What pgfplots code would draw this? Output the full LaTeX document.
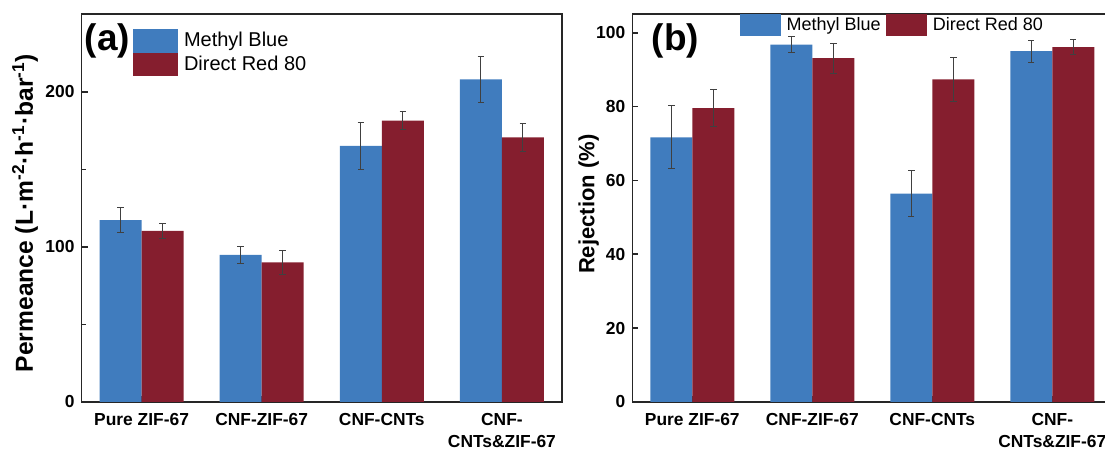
\documentclass[border=0pt]{standalone}
\usepackage{pgfplots}
\pgfplotsset{compat=1.18}
\usepackage{pgfplotstable}
\usepackage{fontspec}
\setmainfont{Liberation Sans}
\definecolor{mblue}{RGB}{64,124,190}
\definecolor{dred}{RGB}{133,30,46}

\pgfplotstableread{
x mb mbe dr dre
0 117.3 8.0 110.4 5.0
1 94.9 5.5 90.0 8.0
2 165.1 15.0 181.5 6.0
3 208.0 15.0 170.7 9.0
}\perm
\pgfplotstableread{
x mb mbe dr dre
0 71.7 8.5 79.6 5.0
1 96.8 2.2 93.1 4.0
2 56.4 6.2 87.4 6.0
3 95.0 3.0 96.1 2.0
}\rej

\pgfplotsset{
  common/.style={
    scale only axis, height=193.85pt,
    ybar=0pt, bar width=21pt,
    xmin=-0.5, xmax=3.5, ymin=0,
    xtick={0,1,2,3},
    xticklabels={Pure ZIF-67, CNF-ZIF-67, CNF-CNTs, {CNF-\\CNTs\&ZIF-67}},
    tick align=inside, tick pos=left,
    major tick length=3pt, minor tick length=2pt,
    axis line style={line width=0.8pt, black!85},
    every tick/.style={black!85, line width=0.8pt},
    /pgf/number format/assume math mode=true,
    yticklabel style={font=\bfseries\fontsize{8.7}{10}\selectfont},
    xticklabel style={align=center, font=\bfseries\fontsize{8.7}{11}\selectfont, inner sep=0pt, yshift=-5.4pt},
    ylabel style={font=\bfseries\fontsize{11}{13}\selectfont, anchor=center},
    legend cell align=left,
  },
  errs/.style={
    error bars/.cd, y dir=both, y explicit,
    error bar style={line width=0.5pt, black!75},
    error mark options={rotate=90, mark size=1.6pt, line width=0.5pt, black!75},
    /pgfplots/.cd,
  },
}

\begin{document}
\begin{tikzpicture}
\useasboundingbox (0,0) rectangle (552.5pt,224.5pt);
\clip (0,0) rectangle (552.5pt,224.5pt);
% ---------- (a)
\begin{axis}[common,
  at={(40.75pt,23.5pt)}, anchor=south west, width=240.25pt,
  ymax=250, ytick={0,100,200}, minor ytick={50,150},
  ylabel={Permeance (L·m\textsuperscript{-2}·h\textsuperscript{-1}·bar\textsuperscript{-1})},
  ylabel style={at={(axis description cs:-0.1176,0.4875)}, font=\bfseries\fontsize{12.3}{14}\selectfont},
  legend style={at={(axis description cs:0.1072,0.962)}, anchor=north west,
    draw=none, fill=none, inner sep=0pt, outer sep=0pt, row sep=0pt, column sep=3pt,
    font=\fontsize{10}{12}\selectfont, nodes={inner sep=0pt}},
]
\addplot[fill=mblue, draw=none, errs,
  legend image code/.code={\fill[mblue] (0pt,-5.9pt) rectangle (22.5pt,5.9pt);}]
  table[x=x, y=mb, y error=mbe] {\perm};
\addlegendentry{Methyl Blue}
\addplot[fill=dred, draw=none, errs,
  legend image code/.code={\fill[dred] (0pt,-5.9pt) rectangle (22.5pt,5.9pt);}]
  table[x=x, y=dr, y error=dre] {\perm};
\addlegendentry{Direct Red 80}
\node[font=\bfseries\fontsize{18.5}{20}\selectfont] at (axis description cs:0.0541,0.9304) {(a)};
\end{axis}
% ---------- (b)
\begin{axis}[common,
  at={(316.15pt,23.5pt)}, anchor=south west, width=240pt,
  ymax=105, ytick={0,20,40,60,80,100},
  ylabel={Rejection (\%)},
  ylabel style={at={(axis description cs:-0.091,0.51)}},
  legend columns=2,
  legend style={at={(axis description cs:0.2244,1.0)}, anchor=north west,
    draw=none, fill=none, inner sep=0pt, outer sep=0pt, row sep=0pt, column sep=2.8pt,
    font=\fontsize{9}{11}\selectfont, nodes={inner sep=0pt}},
]
\addplot[fill=mblue, draw=none, errs,
  legend image code/.code={\fill[mblue] (0pt,-5.5pt) rectangle (20.5pt,5.5pt);}]
  table[x=x, y=mb, y error=mbe] {\rej};
\addlegendentry{Methyl Blue}
\addplot[fill=dred, draw=none, errs,
  legend image code/.code={\fill[dred] (0pt,-5.5pt) rectangle (20.5pt,5.5pt);}]
  table[x=x, y=dr, y error=dre] {\rej};
\addlegendentry{Direct Red 80}
\node[font=\bfseries\fontsize{18.5}{20}\selectfont] at (axis description cs:0.0896,0.931) {(b)};
\end{axis}
\end{tikzpicture}
\end{document}
